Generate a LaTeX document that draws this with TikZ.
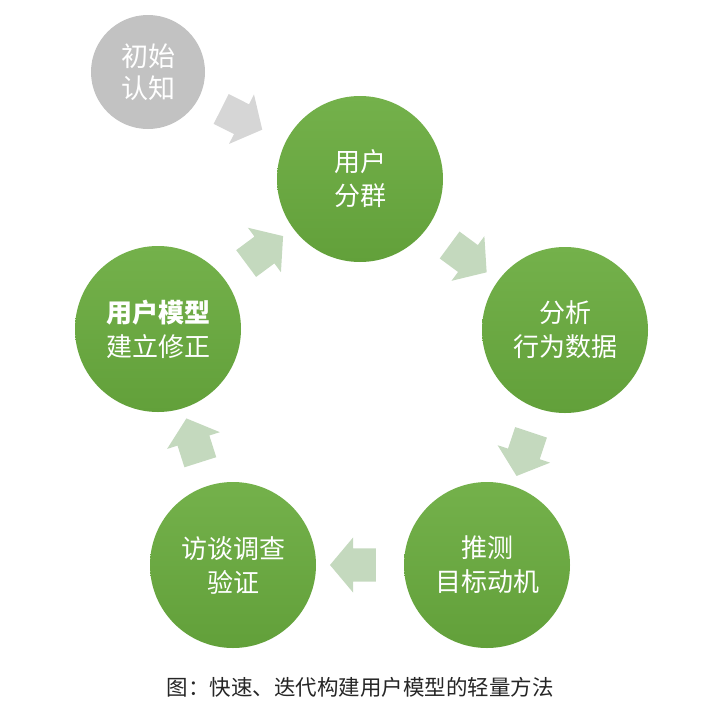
\documentclass[tikz,border=0pt]{standalone}
\usepackage{fontspec}
\newfontfamily\cjk{Noto Sans CJK SC}
\usetikzlibrary{shapes.arrows}
\definecolor{leaftop}{HTML}{74B14B}
\definecolor{leafbot}{HTML}{62A03A}
\definecolor{paleleaf}{HTML}{C4D9BE}
\definecolor{stone}{HTML}{C2C2C2}
\definecolor{pebble}{HTML}{D6D6D6}

\begin{document}
\begin{tikzpicture}[x=1pt, y=-1pt,
    stage/.style={circle, minimum size=166pt, inner sep=0pt,
      top color=leaftop, bottom color=leafbot, text=white, align=center,
      font=\cjk\fontsize{26}{34}\selectfont},
    flow/.style={single arrow, fill=paleleaf, minimum height=46pt,
      inner xsep=0pt, inner ysep=16.5pt, single arrow head extend=11pt,
      single arrow tip angle=100, sloped, allow upside down}]
  \useasboundingbox (0,0) rectangle (720,718);
  % Starting point, in grey.
  \node[circle, minimum size=114pt, inner sep=0pt, fill=stone, text=white,
    align=center, font=\cjk\fontsize{27}{32}\selectfont]
    (init) at (148,72) {初始\\认知};
  % The loop of five steps.
  \node[stage] (group) at (360,179) {用户\\分群};
  \node[stage] (analyze) at (565,330) {分析\\行为数据};
  \node[stage] (infer) at (487,565) {推测\\目标动机};
  \node[stage] (interview) at (233,565) {访谈调查\\验证};
  \node[stage] (model) at (158,329) {{\bfseries 用户模型}\\建立修正};
  % Block arrows between the circles.
  \path (init) -- node[flow, fill=pebble, pos=0.42] (a0) {} (group);
  \path (group) -- node[flow] (a1) {} (analyze);
  \path (analyze) -- node[flow] (a2) {} (infer);
  \path (infer) -- node[flow] (a3) {} (interview);
  \path (interview) -- node[flow] (a4) {} (model);
  \path (model) -- node[flow] (a5) {} (group);
  \node[text=black!85, font=\cjk\fontsize{21.5}{24}\selectfont]
    (caption) at (360,687) {图：快速、迭代构建用户模型的轻量方法};
\end{tikzpicture}
\end{document}
